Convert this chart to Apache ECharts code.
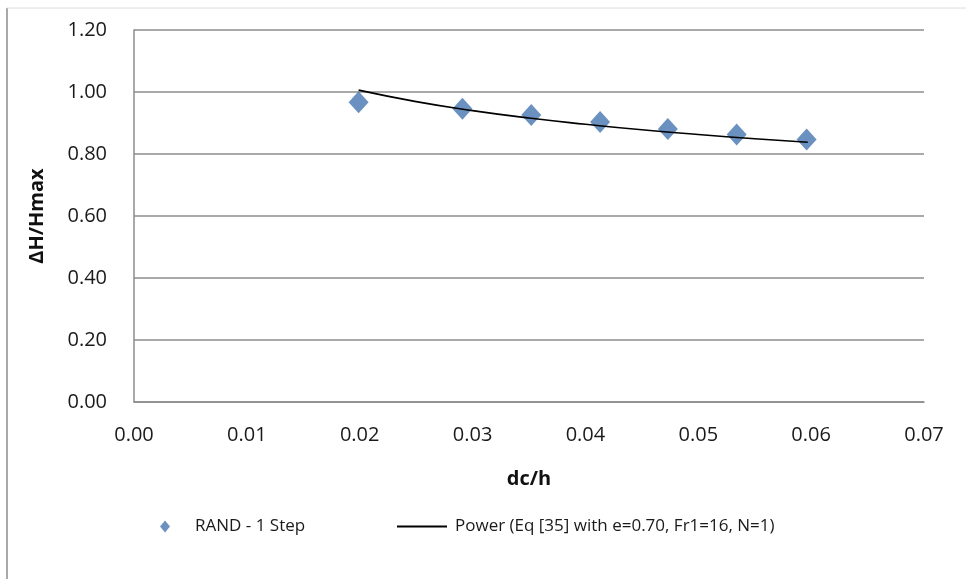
<!DOCTYPE html>
<html>
<head>
<meta charset="utf-8">
<script src="https://cdn.jsdelivr.net/npm/echarts@6/dist/echarts.min.js"></script>
<style>
html,body{margin:0;padding:0;background:#fff;}
#chart{width:966px;height:579px;}
</style>
</head>
<body>
<div id="chart"></div>
<script>
// Data
var pointX = [0.0199, 0.0291, 0.0352, 0.0413, 0.0473, 0.0534, 0.0596];
var pointY = [0.967, 0.946, 0.926, 0.903, 0.881, 0.863, 0.847];
var curveX = [0.0199, 0.025, 0.030, 0.035, 0.040, 0.045, 0.050, 0.055, 0.0597];
var curveY = [1.006, 0.969, 0.940, 0.916, 0.896, 0.878, 0.863, 0.849, 0.838];
var xTicks = ['0.00','0.01','0.02','0.03','0.04','0.05','0.06','0.07'];
var yTicks = ['0.00','0.20','0.40','0.60','0.80','1.00','1.20'];
var seriesNames = ['RAND - 1 Step', 'Power (Eq [35] with e=0.70, Fr1=16, N=1)'];
var xTitle = 'dc/h';
var yTitle = 'ΔH/Hmax';

var pts = pointX.map(function(x,i){return [x, pointY[i]];});
var crv = curveX.map(function(x,i){return [x, curveY[i]];});
var FONT = '"Open Sans", "Noto Sans", sans-serif';

var chart = echarts.init(document.getElementById('chart'), null, {renderer:'canvas'});
chart.setOption({
  animation: false,
  backgroundColor: '#fff',
  textStyle: {fontFamily: FONT},
  grid: {left: 134, right: 42, top: 30, bottom: 177, containLabel: false},
  xAxis: {
    type: 'value', min: 0, max: 0.07, interval: 0.01,
    name: xTitle, nameLocation: 'middle', nameGap: 67,
    nameTextStyle: {fontSize: 20, fontWeight: 'bold', color: '#111', fontFamily: FONT},
    axisLine: {show: true, lineStyle: {color: '#8c8c8c', width: 1.5}},
    axisTick: {show: false},
    splitLine: {show: false},
    axisLabel: {fontSize: 20, color: '#1a1a1a', margin: 23, fontFamily: FONT,
      formatter: function(v){ var i = Math.round(v/0.01); return xTicks[i]; }}
  },
  yAxis: {
    type: 'value', min: 0, max: 1.2, interval: 0.2,
    name: yTitle, nameLocation: 'middle', nameGap: 87, nameRotate: 90,
    nameTextStyle: {fontSize: 20, fontWeight: 'bold', color: '#111', fontFamily: FONT},
    axisLine: {show: true, lineStyle: {color: '#8c8c8c', width: 1.5}},
    axisTick: {show: false},
    splitLine: {show: true, lineStyle: {color: '#8c8c8c', width: 1.5}},
    axisLabel: {fontSize: 20, color: '#1a1a1a', margin: 27, fontFamily: FONT,
      formatter: function(v){ var i = Math.round(v/0.2); return yTicks[i]; }}
  },
  legend: [
    {data: [seriesNames[0]], left: 155, top: 513, icon: 'diamond', itemWidth: 10, itemHeight: 12, itemGap: 0,
     textStyle: {fontSize: 17, color: '#1a1a1a', fontFamily: FONT, padding: [0,0,0,20]}},
    {data: [seriesNames[1]], left: 392, top: 513, icon: 'rect', itemWidth: 50, itemHeight: 2,
     itemStyle: {color: '#000'},
     textStyle: {fontSize: 17, color: '#1a1a1a', fontFamily: FONT, padding: [0,0,0,3]}}
  ],
  series: [
    {name: seriesNames[0], type: 'scatter', data: pts, symbol: 'diamond', symbolSize: [20, 22],
     itemStyle: {color: '#4575b0'}, z: 3},
    {name: seriesNames[1], type: 'line', data: crv, smooth: true, symbol: 'none', showSymbol: false,
     lineStyle: {color: '#000', width: 1.6}, itemStyle: {color: '#000'}, z: 4}
  ],
  graphic: [
    {type: 'line', shape: {x1: 7, y1: 8, x2: 7, y2: 579}, style: {stroke: '#8c8c8c', lineWidth: 1.5}},
    {type: 'line', shape: {x1: 7, y1: 8, x2: 966, y2: 8}, style: {stroke: '#dcdcdc', lineWidth: 1}}
  ]
});
</script>
</body>
</html>
